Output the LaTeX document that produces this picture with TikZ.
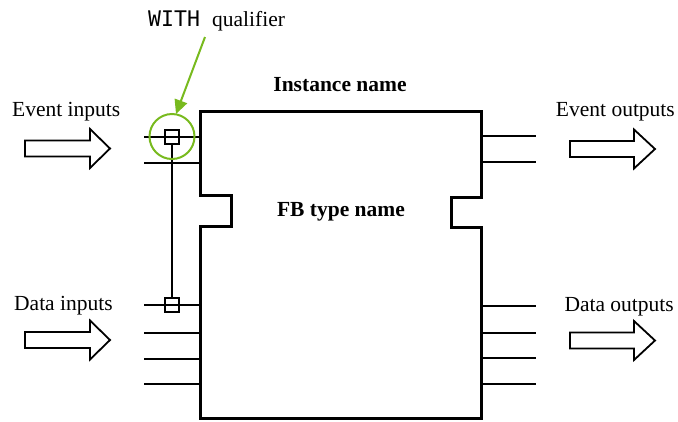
\documentclass[tikz,border=0pt]{standalone}
\usepackage{fontspec}
\setmainfont{Liberation Serif}
\newfontfamily\codefont{DejaVu Sans Mono}
\usetikzlibrary{arrows.meta}
\definecolor{qgreen}{RGB}{120,186,30}
\tikzset{
  lbl/.style={inner sep=0pt, anchor=base, font=\fontsize{21.5}{26}\selectfont},
  blbl/.style={lbl, font=\fontsize{21.5}{26}\selectfont\bfseries},
  boxline/.style={line width=3pt, line join=miter},
  pin/.style={line width=2pt},
  withbox/.style={draw, line width=1.8pt, minimum width=14pt, minimum height=14pt, inner sep=0pt},
  hollow/.style={draw, line width=1.8pt, line join=miter, fill=white},
  qual/.style={qgreen, line width=2pt},
}
\begin{document}
\begin{tikzpicture}[x=1pt, y=-1pt]
\useasboundingbox (0,0) rectangle (678,421);

% FB outline
\coordinate (tl) at (200,111);
\coordinate (tr) at (481,111);
\coordinate (br) at (481,418);
\coordinate (bl) at (200,418);
\draw[boxline] (tl) -- (tr) -- (481,197) -- (451,197) -- (451,227) -- (481,227)
  -- (br) -- (bl) -- (200,226) -- (231,226) -- (231,195) -- (200,195) -- cycle;

% labels
\node[blbl] (inst) at (340,91) {Instance name};
\node[blbl] (type) at (341,216) {FB type name};
\node[lbl, anchor=base west] (evin) at (12,116.7) {Event inputs};
\node[lbl, anchor=base west] (dain) at (14,310) {Data inputs};
\node[lbl, anchor=base east] (evout) at (675,116.7) {Event outputs};
\node[lbl, anchor=base east] (daout) at (674,311) {Data outputs};
\node[lbl, anchor=base west, font=\fontsize{21.5}{26}\codefont] (with) at (148,26.7) {WITH};
\node[lbl, anchor=base west] (qualtxt) at (212,26.7) {qualifier};

% left pins
\foreach \n/\y in {ei1/137, ei2/163, di1/305, di2/333, di3/359, di4/384}{
  \coordinate (\n) at (144,\y);
  \coordinate (\n b) at (200,\y);
  \draw[pin] (\n) -- (\n b);
}
% right pins
\foreach \n/\y in {eo1/136, eo2/162, do1/306, do2/333, do3/358, do4/384}{
  \coordinate (\n) at (536,\y);
  \coordinate (\n b) at (481,\y);
  \draw[pin] (\n b) -- (\n);
}

% WITH association
\node[withbox] (wq1) at (172,137) {};
\node[withbox] (wq2) at (172,305) {};
\draw[pin] (wq1.south) -- (wq2.north);

% green highlight
\node[draw, qual, circle, minimum size=45pt, inner sep=0pt] (ring) at (172,136.5) {};
\coordinate (qstart) at (205,37);
\coordinate (qend) at (176,114);
\draw[qual, -{Triangle[length=14pt, width=13pt]}] (qstart) -- (qend);

% hollow arrows
\foreach \x/\y in {25/148.5, 25/340}{
  \draw[hollow] (\x,\y-8) -- (\x+65,\y-8) -- (\x+65,\y-19.5) -- (\x+85,\y)
     -- (\x+65,\y+19.5) -- (\x+65,\y+8) -- (\x,\y+8) -- cycle;
}
\foreach \x/\y in {570/149, 570/340.5}{
  \draw[hollow] (\x,\y-8) -- (\x+64,\y-8) -- (\x+64,\y-19.5) -- (\x+85,\y)
     -- (\x+64,\y+19.5) -- (\x+64,\y+8) -- (\x,\y+8) -- cycle;
}
\end{tikzpicture}
\end{document}
